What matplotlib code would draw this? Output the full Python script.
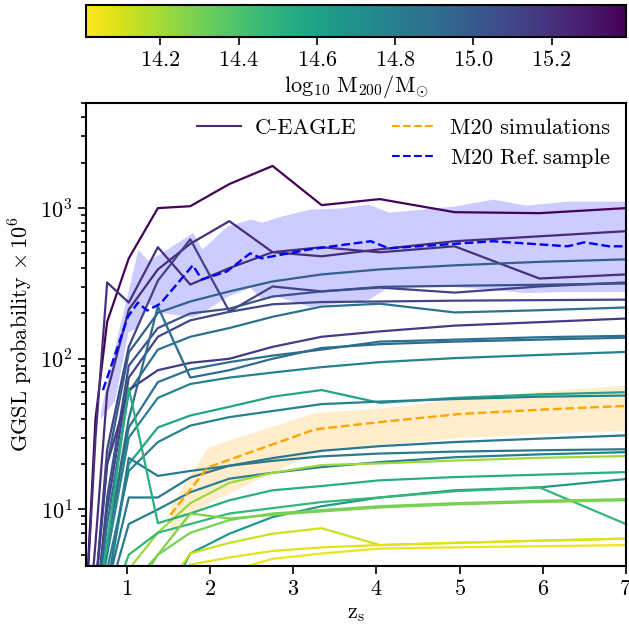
import matplotlib
matplotlib.use("Agg")
import matplotlib.pyplot as plt
import numpy as np
from matplotlib.cm import ScalarMappable
from matplotlib.colors import Normalize
from matplotlib.lines import Line2D

plt.rcParams["font.family"] = "serif"
plt.rcParams["font.serif"] = ["cmr10"]
plt.rcParams["mathtext.fontset"] = "cm"
plt.rcParams["axes.formatter.use_mathtext"] = True

# source redshifts where the C-EAGLE curves are sampled
Z = [0.5, 0.62, 0.76, 1.02, 1.37, 1.76, 2.23, 2.75, 3.34, 4.04, 4.94, 5.96, 7.0]

# log10 M200 of each cluster and its GGSL probability (x 1e6) at Z
MASSES = [15.38, 15.22, 15.20, 15.12, 14.97, 15.05, 15.10, 14.88,
          15.15, 14.87, 14.90, 14.78, 14.58, 14.78, 14.85, 14.83,
          14.80, 14.22, 14.52, 14.65, 14.47, 14.30, 14.28, 14.12,
          14.05, 14.08]
PROBS = [
    [2, 40, 176, 464, 1000, 1030, 1445, 1905, 1047, 1148, 940, 926, 1000],
    [1, 6, 60, 212, 392, 580, 820, 510, 479, 533, 603, 650, 703],
    [2, 30, 321, 236, 550, 311, 400, 510, 550, 509, 558, 341, 363],
    [1, 3, 25, 120, 330, 621, 206, 302, 280, 297, 275, 302, 321],
    [1, 3, 20, 110, 202, 240, 280, 326, 363, 392, 417, 440, 457],
    [1, 2, 12, 90, 160, 200, 215, 259, 280, 300, 305, 310, 316],
    [1, 2, 10, 75, 140, 180, 205, 230, 238, 240, 243, 245, 247],
    [1, 2, 8, 60, 115, 140, 160, 190, 222, 232, 203, 210, 219],
    [1, 3, 20, 62, 84, 94, 100, 120, 140, 152, 166, 175, 185],
    [1, 2, 6, 35, 70, 85, 95, 105, 115, 130, 134, 139, 142],
    [1, 2, 6, 40, 222, 75, 84, 100, 118, 125, 130, 134, 138],
    [1, 2, 5, 30, 55, 68, 75, 81, 88, 95, 101, 106, 111],
    [1, 1.5, 3, 20, 35, 42, 48, 56, 62, 51, 55, 58, 60],
    [1, 1.5, 4, 18, 28, 36, 41, 45, 50, 52, 54, 56, 57],
    [1, 1.5, 3, 12, 12, 16.3, 19.5, 21.9, 24.5, 26.3, 28, 29.5, 31],
    [1, 1.5, 3, 22, 16.7, 18, 19.5, 21, 22.5, 23.5, 24.2, 24.7, 25.1],
    [1, 1.2, 2.5, 8, 10, 13, 16, 17.5, 19.1, 20.6, 22.2, 23.2, 24],
    [1, 1, 1.5, 4, 7, 11, 15, 17.5, 19.7, 20.2, 21.1, 22, 22.6],
    [1, 2, 6, 64, 8.1, 9.4, 11.5, 13.4, 14.3, 15.6, 16.4, 17.0, 17.7],
    [0.5, 0.5, 0.5, 1, 2, 5.1, 6.9, 8.9, 10.5, 12, 13.4, 14, 15.9],
    [1, 1, 2, 5, 7, 8, 9.4, 10.2, 11.2, 12, 13.2, 14, 8.0],
    [1, 1, 1.5, 3, 5, 7, 8.5, 9.4, 9.9, 10.5, 11, 11.4, 11.7],
    [1, 1, 1.2, 2.5, 5, 9.4, 8.7, 9.2, 9.7, 10.3, 10.8, 11.2, 11.5],
    [0.5, 0.5, 0.5, 1, 2.5, 5.1, 6, 6.9, 7.5, 5.8, 6.0, 6.2, 6.4],
    [0.3, 0.3, 0.3, 0.5, 1, 2, 3.9, 4.7, 5.1, 5.5, 5.6, 5.7, 5.8],
    [0.3, 0.3, 0.3, 0.6, 1.5, 4.3, 4.8, 5.3, 5.6, 5.8, 6.0, 6.2, 6.4],
]

# M20 simulations (orange)
M20_SIM_Z = [1.52, 1.97, 3.26, 4.04, 5.0, 6.0, 7.0]
M20_SIM_MID = [9.2, 19, 34, 38, 43, 46, 48.7]
M20_SIM_LO = [6.7, 11, 24, 27, 30, 32, 33.5]
M20_SIM_HI = [10.6, 26, 44, 47, 54, 61, 67]

# M20 reference sample (blue)
M20_REF_Z = [0.71, 1.01, 1.13, 1.24, 1.40, 1.79, 1.90, 2.20, 2.48, 2.62,
             3.20, 3.93, 4.15, 5.4, 6.3, 6.5, 6.8, 7.0]
M20_REF_MID = [62, 190, 236, 209, 232, 417, 336, 380, 501, 464,
               533, 603, 541, 603, 558, 593, 558, 558]
M20_BAND_Z = [0.68, 0.85, 1.01, 1.13, 1.25, 1.40, 1.79, 1.90, 2.20, 2.48,
              2.62, 2.80, 3.20, 3.55, 3.90, 4.15, 4.93, 5.40, 5.80, 6.30, 7.0]
M20_BAND_HI = [45, 120, 280, 533, 450, 500, 690, 533, 760, 845,
               806, 870, 985, 1000, 1063, 940, 1031, 1148, 1047, 1113, 1113]
M20_BAND_LO = [40, 53, 150, 163, 236, 203, 190, 203, 259, 298,
               247, 260, 222, 236, 247, 302, 302, 288, 275, 280, 280]

MASS_MIN, MASS_MAX = 14.01, 15.39

fig = plt.figure(figsize=(6.29, 6.27), dpi=100)
ax = fig.add_axes([0.136, 0.097, 0.859, 0.739])
cax = fig.add_axes([0.137, 0.941, 0.858, 0.051])

cmap = plt.get_cmap("viridis_r")
norm = Normalize(MASS_MIN, MASS_MAX)

ax.fill_between(M20_BAND_Z, M20_BAND_LO, M20_BAND_HI, color="blue",
                alpha=0.2, lw=0, zorder=1)
ax.fill_between(M20_SIM_Z, M20_SIM_LO, M20_SIM_HI, color="orange",
                alpha=0.2, lw=0, zorder=1)

for m, p in zip(MASSES, PROBS):
    ax.plot(Z, p, color=cmap(norm(m)), lw=1.6, zorder=2)

ax.plot(M20_SIM_Z, M20_SIM_MID, color="orange", ls="--", lw=1.7, zorder=3)
ax.plot(M20_REF_Z, M20_REF_MID, color="blue", ls="--", lw=1.7, zorder=3)

ax.set_yscale("log")
ax.set_xlim(0.5, 7)
ax.set_ylim(4.2, 5000)
ax.set_xticks([1, 2, 3, 4, 5, 6, 7])
ax.set_xlabel(r"$\mathrm{z_s}$", fontsize=16)
ax.set_ylabel(r"GGSL probability $\times\,10^6$", fontsize=16)
ax.tick_params(which="both", labelsize=16, width=1.2)
ax.tick_params(which="major", length=6)
ax.tick_params(which="minor", length=3.5)
for s in ax.spines.values():
    s.set_linewidth(1.5)

handles = [
    Line2D([], [], color=cmap(norm(15.22)), lw=1.5),
    Line2D([], [], color="none"),
    Line2D([], [], color="orange", ls="--", lw=1.5),
    Line2D([], [], color="blue", ls="--", lw=1.5),
]
labels = ["C-EAGLE", " ", "M20 simulations", r"M20 Ref.$\,$sample"]
ax.legend(handles, labels, ncol=2, loc="upper right", frameon=False,
          fontsize=16, handlelength=2.0, handletextpad=0.6,
          columnspacing=1.6, borderaxespad=0.3, labelspacing=0.35)

sm = ScalarMappable(norm=norm, cmap=cmap)
cb = fig.colorbar(sm, cax=cax, orientation="horizontal")
cb.set_ticks([14.2, 14.4, 14.6, 14.8, 15.0, 15.2])
cb.ax.tick_params(labelsize=16, length=6, width=1.2)
cb.outline.set_linewidth(1.5)
cb.set_label(r"$\log_{10}\,\mathrm{M_{200}/M_{\odot}}$", fontsize=16, labelpad=2)

fig.savefig("out.png", dpi=100)
